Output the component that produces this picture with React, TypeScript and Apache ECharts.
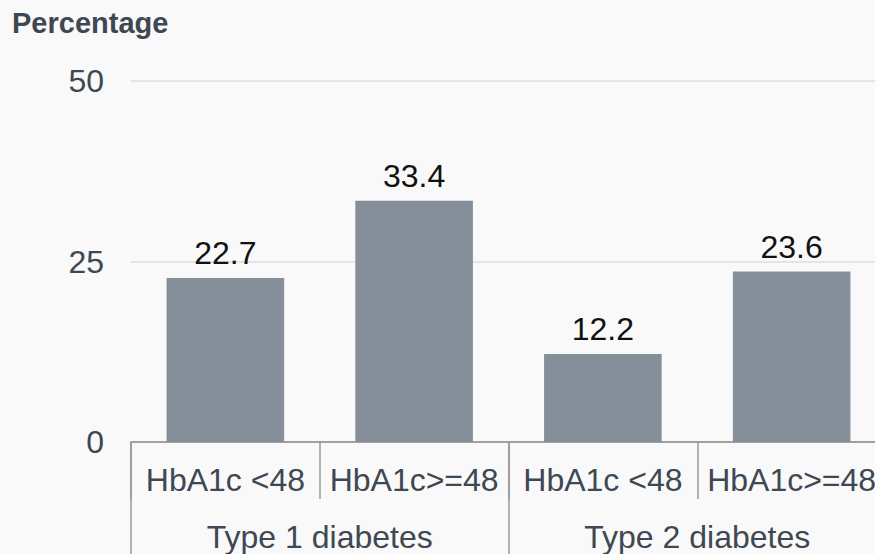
import React, { useEffect, useRef } from "react";
import * as echarts from "echarts";

const subgroups = ["HbA1c <48", "HbA1c>=48", "HbA1c <48", "HbA1c>=48"];
const groups = ["Type 1 diabetes", "Type 2 diabetes"];
const values = [22.7, 33.4, 12.2, 23.6];
const yTicks = { min: 0, max: 50, interval: 25 };

const FONT = "'Liberation Sans', Arial, Helvetica, sans-serif";
const TEXT = "#3e4852";
const FS = 32;

export default function App() {
  const ref = useRef<HTMLDivElement>(null);
  useEffect(() => {
    if (!ref.current) return;
    document.body.style.overflow = "hidden";
    const chart = echarts.init(ref.current, undefined, { renderer: "svg" });
    chart.setOption({
      animation: false,
      backgroundColor: "#f9f9f9",
      textStyle: { fontFamily: FONT },
      title: {
        text: "Percentage",
        left: 12,
        top: 8,
        padding: 0,
        textStyle: { fontFamily: FONT, fontSize: 29, fontWeight: "bold", color: TEXT },
      },
      grid: { left: 131, right: 0, top: 81, bottom: 112, containLabel: false },
      xAxis: [
        {
          type: "category",
          data: subgroups,
          position: "bottom",
          axisLine: { show: true, lineStyle: { color: "#8a8a8a", width: 1.5 } },
          axisTick: { show: true, length: 57, interval: 0, lineStyle: { color: "#999999", width: 1.5 } },
          axisLabel: { interval: 0, margin: 22, fontSize: FS, color: TEXT, fontFamily: FONT },
        },
        {
          type: "category",
          data: groups,
          position: "bottom",
          offset: 0,
          axisLine: { show: false },
          axisTick: { show: true, length: 112, interval: 0, lineStyle: { color: "#999999", width: 1.5 } },
          axisLabel: { interval: 0, margin: 79, fontSize: FS, color: TEXT, fontFamily: FONT },
        },
      ],
      yAxis: {
        type: "value",
        min: yTicks.min,
        max: yTicks.max,
        interval: yTicks.interval,
        axisLine: { show: false },
        axisTick: { show: false },
        axisLabel: { margin: 27, fontSize: FS, color: TEXT, fontFamily: FONT },
        splitLine: { lineStyle: { color: "#dddddd", width: 1.5 } },
      },
      series: [
        {
          type: "bar",
          xAxisIndex: 0,
          data: values,
          barWidth: "62.3%",
          itemStyle: { color: "#848f9a" },
          label: {
            show: true,
            position: "top",
            distance: 9,
            fontSize: FS,
            color: "#111111",
            fontFamily: FONT,
            formatter: (p: any) => p.value.toFixed(1),
          },
        },
      ],
    });
    return () => chart.dispose();
  }, []);
  return (
    <div
      ref={ref}
      style={{ position: "fixed", left: 0, top: 0, width: 886, height: 554 }}
    />
  );
}
